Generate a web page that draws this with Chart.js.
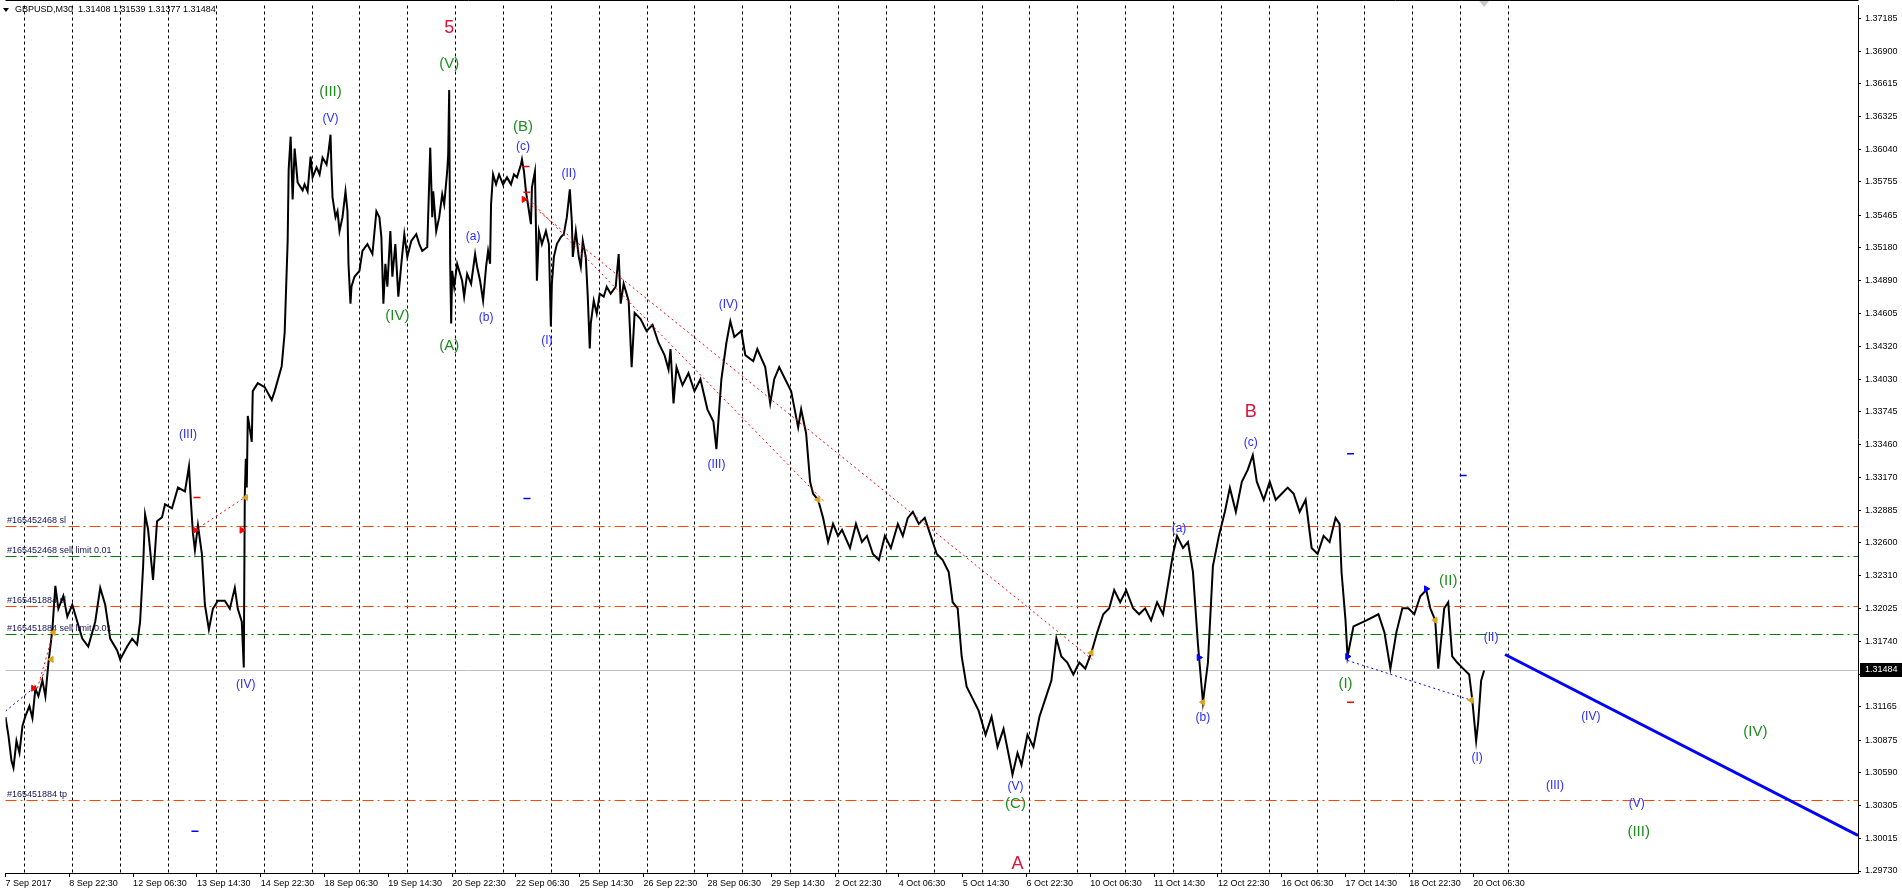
<!DOCTYPE html>
<html>
<head>
<meta charset="utf-8">
<script src="https://cdn.jsdelivr.net/npm/chart.js@4.4.1/dist/chart.umd.min.js"></script>
<style>
  html, body { margin: 0; padding: 0; background: #fff; overflow: hidden; }
  #wrap { width: 1902px; height: 894px; position: relative; }
</style>
</head>
<body>
<div id="wrap"><canvas id="chart"></canvas></div>
<script>
// ---- data ----
const chartTitle = "GBPUSD,M30  1.31408 1.31539 1.31377 1.31484";
const bidPrice = 1.31484;

const yTickValues = [1.37185, 1.36900, 1.36615, 1.36325, 1.36040, 1.35755, 1.35465, 1.35180,
  1.34890, 1.34605, 1.34320, 1.34030, 1.33745, 1.33460, 1.33170, 1.32885, 1.32600, 1.32310,
  1.32025, 1.31740, 1.31450, 1.31165, 1.30875, 1.30590, 1.30305, 1.30015, 1.29730];

// bar index (one M30 bar per pixel) of each time label
const xTickBars = [0, 64, 128, 192, 256, 320, 384, 448, 512, 576, 640, 704, 768, 832,
  896, 960, 1024, 1088, 1152, 1216, 1280, 1344, 1408, 1472];
const xTickLabels = ["7 Sep 2017", "8 Sep 22:30", "12 Sep 06:30", "13 Sep 14:30", "14 Sep 22:30",
  "18 Sep 06:30", "19 Sep 14:30", "20 Sep 22:30", "22 Sep 06:30", "25 Sep 14:30", "26 Sep 22:30",
  "28 Sep 06:30", "29 Sep 14:30", "2 Oct 22:30", "4 Oct 06:30", "5 Oct 14:30", "6 Oct 22:30",
  "10 Oct 06:30", "11 Oct 14:30", "12 Oct 22:30", "16 Oct 06:30", "17 Oct 14:30", "18 Oct 22:30",
  "20 Oct 06:30"];
const dayStartBars = [19, 67, 115, 163, 211, 259, 307, 355, 403, 451, 499, 547, 595, 643, 691,
  739, 787, 835, 883, 931, 979, 1027, 1075, 1123, 1171, 1219, 1267, 1315, 1363, 1411, 1459, 1507];

// price swings [bar, price]
const swingsEarlySep = [
  [0, 1.31076], [3, 1.30911], [6, 1.30694], [8, 1.30633], [11, 1.30867], [14, 1.30763], [17, 1.30998],
  [20, 1.31085], [24, 1.31172], [27, 1.31067], [30, 1.31328], [33, 1.31258], [37, 1.31397], [40, 1.31258],
  [43, 1.31545], [47, 1.31841], [50, 1.32223], [53, 1.32023], [58, 1.32136], [62, 1.31954], [67, 1.32058],
  [72, 1.31910], [77, 1.31762], [83, 1.31693], [90, 1.31910], [95, 1.32206], [100, 1.32058], [105, 1.31762],
  [112, 1.31658], [115, 1.31580], [122, 1.31693], [127, 1.31762], [132, 1.31710], [135, 1.31910],
  [138, 1.32388], [140, 1.32849], [143, 1.32718], [148, 1.32275], [152, 1.32788], [157, 1.32823],
  [160, 1.32936], [167, 1.32901], [173, 1.33083], [180, 1.33049], [184, 1.33266], [186, 1.32953],
  [188, 1.32684], [190, 1.32536], [193, 1.32753], [197, 1.32501], [200, 1.32058], [204, 1.31841],
  [208, 1.32023], [213, 1.32093], [220, 1.32093], [225, 1.32023], [230, 1.32206], [233, 1.32023],
  [237, 1.31910], [239, 1.31510], [240, 1.33014], [241, 1.33335], [242, 1.33083], [243, 1.33709],
  [247, 1.33483], [248, 1.33926], [253, 1.33996], [260, 1.33961], [267, 1.33848], [270, 1.33926],
  [277, 1.34144], [280, 1.34439], [283, 1.35238], [284, 1.35864], [286, 1.36151], [288, 1.35603],
  [290, 1.36047], [293, 1.35751], [298, 1.35682]
];
const swingsLateSep = [
  [300, 1.35734], [303, 1.35673], [306, 1.35977], [308, 1.35795], [312, 1.35882], [315, 1.35821],
  [318, 1.35968], [322, 1.35908], [324, 1.36021], [326, 1.36168], [327, 1.35847], [328, 1.35621],
  [331, 1.35447], [333, 1.35499], [335, 1.35325], [338, 1.35447], [341, 1.35673], [343, 1.35499],
  [344, 1.35039], [346, 1.34691], [347, 1.34839], [350, 1.34926], [355, 1.34978], [358, 1.35152],
  [363, 1.35212], [368, 1.35125], [372, 1.35499], [375, 1.35447], [377, 1.35273], [379, 1.34691],
  [381, 1.35039], [383, 1.34839], [386, 1.35325], [388, 1.34926], [391, 1.35212], [394, 1.34752],
  [397, 1.35039], [400, 1.35299], [403, 1.35100], [407, 1.35239], [412, 1.35299], [415, 1.35212],
  [418, 1.35152], [423, 1.35186], [426, 1.36055], [428, 1.35447], [429, 1.35673], [432, 1.35325],
  [435, 1.35447], [438, 1.35647], [440, 1.35560], [443, 1.35847], [444, 1.35994], [445, 1.36559],
  [446, 1.35039], [447, 1.34517], [448, 1.34978], [450, 1.34839], [453, 1.35039], [455, 1.34978],
  [458, 1.34891], [460, 1.34752], [463, 1.34952], [467, 1.34865], [471, 1.35125], [473, 1.35013],
  [476, 1.34891], [479, 1.34717], [482, 1.35013], [484, 1.35152], [486, 1.35039], [487, 1.35560],
  [489, 1.35821], [492, 1.35734], [495, 1.35821], [499, 1.35734], [503, 1.35795], [507, 1.35734],
  [510, 1.35821], [513, 1.35795], [517, 1.35908], [518, 1.35951], [520, 1.35847], [522, 1.35673],
  [524, 1.35560], [527, 1.35386], [528, 1.35708], [531, 1.35847], [533, 1.34891], [535, 1.35325],
  [538, 1.35212], [542, 1.35325], [545, 1.35212], [547, 1.34491], [548, 1.34865], [550, 1.35100],
  [553, 1.35212], [557, 1.35273], [560, 1.35299], [563, 1.35447], [566, 1.35690], [568, 1.35412],
  [569, 1.35100], [572, 1.35325], [575, 1.35100], [577, 1.35013], [579, 1.35239], [582, 1.35100],
  [584, 1.34752], [586, 1.34300], [587, 1.34517], [590, 1.34717], [593, 1.34604], [596, 1.34778],
  [600, 1.34752], [603, 1.34839], [607, 1.34778], [612, 1.34839], [615, 1.35125], [617, 1.34691],
  [620, 1.34865]
];
const swingsOct = [
  [625, 1.34715], [628, 1.34136], [631, 1.34610], [637, 1.34557], [643, 1.34452], [649, 1.34505],
  [655, 1.34347], [661, 1.34241], [665, 1.34115], [667, 1.34294], [670, 1.33819], [673, 1.34136],
  [679, 1.33978], [685, 1.34083], [691, 1.33925], [697, 1.34030], [704, 1.33767], [710, 1.33661],
  [713, 1.33419], [718, 1.34030], [723, 1.34347], [727, 1.34536], [731, 1.34399], [738, 1.34452],
  [742, 1.34241], [750, 1.34188], [754, 1.34294], [762, 1.34136], [767, 1.33819], [771, 1.34030],
  [776, 1.34136], [782, 1.34030], [788, 1.33925], [795, 1.33609], [798, 1.33767], [803, 1.33556],
  [807, 1.33134], [810, 1.33029], [815, 1.32976], [820, 1.32818], [825, 1.32607], [830, 1.32765],
  [835, 1.32660], [839, 1.32713], [847, 1.32555], [853, 1.32765], [859, 1.32607], [864, 1.32660],
  [870, 1.32502], [876, 1.32449], [882, 1.32660], [888, 1.32555], [895, 1.32765], [900, 1.32660],
  [905, 1.32818], [910, 1.32871], [916, 1.32765], [922, 1.32818], [928, 1.32660], [934, 1.32502],
  [940, 1.32449], [946, 1.32344], [950, 1.32080], [955, 1.32027], [959, 1.31606], [964, 1.31342],
  [970, 1.31237], [976, 1.31132], [983, 1.30921], [989, 1.31079], [995, 1.30815], [1001, 1.30973],
  [1007, 1.30710], [1010, 1.30573], [1015, 1.30763], [1019, 1.30657], [1025, 1.30921], [1031, 1.30815],
  [1037, 1.31079], [1043, 1.31237], [1049, 1.31395], [1054, 1.31764], [1059, 1.31606], [1065, 1.31553],
  [1071, 1.31448], [1077, 1.31553], [1083, 1.31500], [1089, 1.31637], [1095, 1.31817], [1101, 1.31975],
  [1107, 1.32027], [1112, 1.32186], [1118, 1.32080], [1124, 1.32186], [1131, 1.32027], [1137, 1.31975],
  [1143, 1.32027], [1149, 1.31922], [1155, 1.32080], [1161, 1.31975], [1166, 1.32238], [1171, 1.32502],
  [1175, 1.32660], [1181, 1.32555], [1186, 1.32607], [1191, 1.32344], [1196, 1.31711], [1201, 1.31205],
  [1206, 1.31553], [1211, 1.32396], [1217, 1.32660], [1223, 1.32871], [1228, 1.33082], [1234, 1.32871],
  [1240, 1.33134], [1246, 1.33240], [1251, 1.33366], [1255, 1.33134], [1262, 1.32976], [1268, 1.33134],
  [1274, 1.32976], [1280, 1.33029], [1286, 1.33082], [1292, 1.33029], [1298, 1.32871], [1304, 1.32976],
  [1310, 1.32555], [1316, 1.32502], [1322, 1.32660], [1328, 1.32607], [1334, 1.32818], [1338, 1.32765],
  [1340, 1.32344], [1344, 1.31922], [1346, 1.31606], [1352, 1.31869], [1365, 1.31922], [1377, 1.31975],
  [1383, 1.31817], [1389, 1.31500], [1395, 1.31817], [1401, 1.32027], [1407, 1.32027], [1413, 1.31975],
  [1419, 1.32133], [1425, 1.32186], [1429, 1.32027], [1434, 1.31922], [1437, 1.31500], [1443, 1.32027],
  [1447, 1.32080], [1451, 1.31606], [1456, 1.31553], [1462, 1.31500], [1468, 1.31448], [1471, 1.31237],
  [1475, 1.30868], [1477, 1.31026], [1480, 1.31395], [1483, 1.31484]
];

// pending orders
const orderLevels = [1.32745, 1.32484, 1.32045, 1.31806, 1.30348];
const orderTags = ["#165452468 sl", "#165452468 sell limit 0.01", "#165451884 sl",
  "#165451884 sell limit 0.01", "#165451884 tp"];

// drawn objects [[bar, price], [bar, price]]
const redTradeLines = [
  [[32, 1.31328], [48, 1.31815]], [[35, 1.31397], [45, 1.31580]],
  [[190, 1.32710], [240, 1.32996]], [[520, 1.35603], [1090, 1.31580]], [[528, 1.35577], [820, 1.32970]]
];
const blueTradeLines = [[[0, 1.31128], [28, 1.31328]], [[1346, 1.31571], [1470, 1.31224]]];
const trendLine = [[1504, 1.31623], [1858, 1.30042]];

const redArrows = [[28, 1.31328], [190, 1.32710], [237, 1.32710], [520, 1.35603]];
const goldArrows = [[48, 1.31815], [46, 1.31580], [241, 1.32996], [815, 1.32976], [1089, 1.31637],
  [1201, 1.31205], [1434, 1.31922], [1470, 1.31224]];
const blueArrows = [[1197, 1.31597], [1346, 1.31606], [1425, 1.32197]];
const blueDashes = [[190, 1.30077], [523, 1.32988], [1349, 1.33379], [1462, 1.33188]];
const redDashes = [[192, 1.32996], [1349, 1.31206], [522, 1.35890], [523, 1.35664]];

// wave labels: text, bar, price, degree
const waveLabels = [
  ["5", 445, 1.37098, "red"], ["(V)", 445, 1.36785, "green"], ["(III)", 326, 1.36542, "green"],
  ["(V)", 326, 1.36307, "blue"], ["(IV)", 393, 1.34587, "green"], ["(A)", 445, 1.34326, "green"],
  ["(B)", 519, 1.36238, "green"], ["(c)", 519, 1.36064, "blue"], ["(a)", 469, 1.35273, "blue"],
  ["(b)", 482, 1.34569, "blue"], ["(II)", 565, 1.35829, "blue"], ["(I)", 543, 1.34370, "blue"],
  ["(III)", 183, 1.33544, "blue"], ["(IV)", 241, 1.31363, "blue"], ["(IV)", 725, 1.34682, "blue"],
  ["(III)", 713, 1.33283, "blue"], ["(V)", 1013, 1.30468, "blue"], ["(C)", 1013, 1.30320, "green"],
  ["A", 1015, 1.29790, "red"], ["(a)", 1177, 1.32727, "blue"], ["(b)", 1201, 1.31068, "blue"],
  ["B", 1249, 1.33744, "red"], ["(c)", 1249, 1.33474, "blue"], ["(I)", 1344, 1.31363, "green"],
  ["(II)", 1447, 1.32266, "green"], ["(II)", 1490, 1.31771, "blue"], ["(I)", 1476, 1.30720, "blue"],
  ["(IV)", 1590, 1.31076, "blue"], ["(III)", 1554, 1.30476, "blue"], ["(V)", 1636, 1.30320, "blue"],
  ["(III)", 1638, 1.30068, "green"], ["(IV)", 1755, 1.30946, "green"]
];

// ---- chart ----
const uiFont = "'Liberation Sans', Arial, sans-serif";
Chart.defaults.font.family = uiFont;
Chart.defaults.font.size = 9;
Chart.defaults.color = "#000";

const toPts = (arr) => arr.map(([b, p]) => ({ x: b, y: p }));
const waveStyle = {
  blue: { color: "#2a2aff", font: "12px " + uiFont },
  green: { color: "#1e8c1e", font: "15px " + uiFont },
  red: { color: "#dc143c", font: "18px " + uiFont },
};

const overlay = {
  id: "mt4Overlay",
  beforeDatasetsDraw(chart) {
    const { ctx, chartArea: a, scales: { x, y } } = chart;
    ctx.save();
    // daily grid
    ctx.strokeStyle = "#000";
    ctx.lineWidth = 1;
    ctx.setLineDash([3, 3]);
    dayStartBars.forEach((b) => {
      const px = Math.round(x.getPixelForValue(b)) + 0.5;
      ctx.beginPath();
      ctx.moveTo(px, a.top);
      ctx.lineTo(px, a.bottom);
      ctx.stroke();
    });
    // bid line
    ctx.setLineDash([]);
    ctx.strokeStyle = "#c0c0c0";
    const by = Math.round(y.getPixelForValue(bidPrice)) + 0.5;
    ctx.beginPath();
    ctx.moveTo(a.left, by);
    ctx.lineTo(a.right, by);
    ctx.stroke();
    // pending orders
    ctx.font = "9px " + uiFont;
    ctx.textBaseline = "bottom";
    orderLevels.forEach((lv, i) => {
      const py = Math.round(y.getPixelForValue(lv)) + 0.5;
      ctx.strokeStyle = orderTags[i].includes("limit") ? "#008000" : "#ff4500";
      ctx.setLineDash([11, 4, 2, 4]);
      ctx.beginPath();
      ctx.moveTo(a.left, py);
      ctx.lineTo(a.right, py);
      ctx.stroke();
      ctx.fillStyle = "#14145a";
      ctx.fillText(orderTags[i], 7, py - 1);
    });
    ctx.restore();
  },
  afterDraw(chart) {
    const { ctx, chartArea: a, scales: { x, y } } = chart;
    ctx.save();
    // frame
    ctx.strokeStyle = "#000";
    ctx.lineWidth = 1;
    ctx.beginPath();
    ctx.moveTo(a.left, 0.5);
    ctx.lineTo(a.right + 0.5, 0.5);
    ctx.stroke();
    // wave labels
    ctx.textAlign = "center";
    ctx.textBaseline = "middle";
    waveLabels.forEach(([t, b, p, deg]) => {
      ctx.font = waveStyle[deg].font;
      ctx.fillStyle = waveStyle[deg].color;
      ctx.fillText(t, x.getPixelForValue(b), y.getPixelForValue(p));
    });
    // title
    ctx.fillStyle = "#000";
    ctx.beginPath();
    ctx.moveTo(3, 8); ctx.lineTo(9, 8); ctx.lineTo(6, 12); ctx.closePath();
    ctx.fill();
    ctx.font = "9px " + uiFont;
    ctx.textAlign = "left";
    ctx.fillText(chartTitle, 15, 10);
    // chart shift marker
    ctx.fillStyle = "#c8c8c8";
    const sx = x.getPixelForValue(1483);
    ctx.beginPath();
    ctx.moveTo(sx - 5, 1); ctx.lineTo(sx + 5, 1); ctx.lineTo(sx, 7); ctx.closePath();
    ctx.fill();
    // bid price box on axis
    const by = Math.round(y.getPixelForValue(bidPrice));
    ctx.fillStyle = "#000";
    ctx.fillRect(a.right + 2, by - 7, 1902 - a.right - 2, 14);
    ctx.fillStyle = "#fff";
    ctx.textBaseline = "middle";
    ctx.fillText(bidPrice.toFixed(5), a.right + 7, by);
    ctx.restore();
  },
};

const lineSet = (pts, color, width, dash, order) => ({
  type: "line",
  data: toPts(pts),
  borderColor: color,
  borderWidth: width,
  borderDash: dash,
  pointRadius: 0,
  order,
});
const markSet = (pts, color, style, rot, r) => ({
  type: "scatter",
  data: toPts(pts),
  backgroundColor: color,
  borderColor: color,
  borderWidth: style === "line" ? 1.5 : 1,
  pointStyle: style,
  rotation: rot,
  pointRadius: r,
  order: 0,
});

new Chart(document.getElementById("chart"), {
  type: "line",
  data: {
    datasets: [
      lineSet([...swingsEarlySep, ...swingsLateSep, ...swingsOct], "#000", 2, [], 5),
      ...redTradeLines.map((l) => lineSet(l, "#ff0000", 1, [2, 3], 1)),
      ...blueTradeLines.map((l) => lineSet(l, "#0000ff", 1, [2, 3], 1)),
      lineSet(trendLine, "#0000ff", 3, [], 1),
      markSet(redArrows, "#ff0000", "triangle", 90, 3.5),
      markSet(goldArrows, "#daa520", "triangle", -90, 3.5),
      markSet(blueArrows, "#0000ff", "triangle", 90, 3.5),
      markSet(blueDashes, "#0000ff", "line", 0, 3.5),
      markSet(redDashes, "#ff0000", "line", 0, 3.5),
    ],
  },
  options: {
    responsive: true,
    maintainAspectRatio: false,
    animation: false,
    devicePixelRatio: 1,
    layout: { padding: 0 },
    plugins: { legend: { display: false }, tooltip: { enabled: false } },
    scales: {
      x: {
        type: "linear",
        position: "bottom",
        min: 0,
        max: 1858,
        afterBuildTicks: (s) => { s.ticks = xTickBars.map((v) => ({ value: v })); },
        afterFit: (s) => { s.height = 21; s.paddingLeft = 0; s.paddingRight = 0; },
        ticks: {
          autoSkip: false,
          maxRotation: 0,
          minRotation: 0,
          align: "start",
          padding: 1,
          callback: (v, i) => xTickLabels[i],
        },
        grid: { drawOnChartArea: false, tickLength: 4, tickColor: "#000" },
        border: { color: "#000" },
      },
      y: {
        type: "linear",
        position: "right",
        min: 1.297126,
        max: 1.37298,
        afterBuildTicks: (s) => { s.ticks = yTickValues.map((v) => ({ value: v })); },
        afterFit: (s) => { s.width = 44; s.paddingTop = 0; s.paddingBottom = 0; },
        ticks: { padding: 4, callback: (v) => Number(v).toFixed(5) },
        grid: { drawOnChartArea: false, tickLength: 3, tickColor: "#000" },
        border: { color: "#000" },
      },
    },
  },
  plugins: [overlay],
});
</script>
</body>
</html>
